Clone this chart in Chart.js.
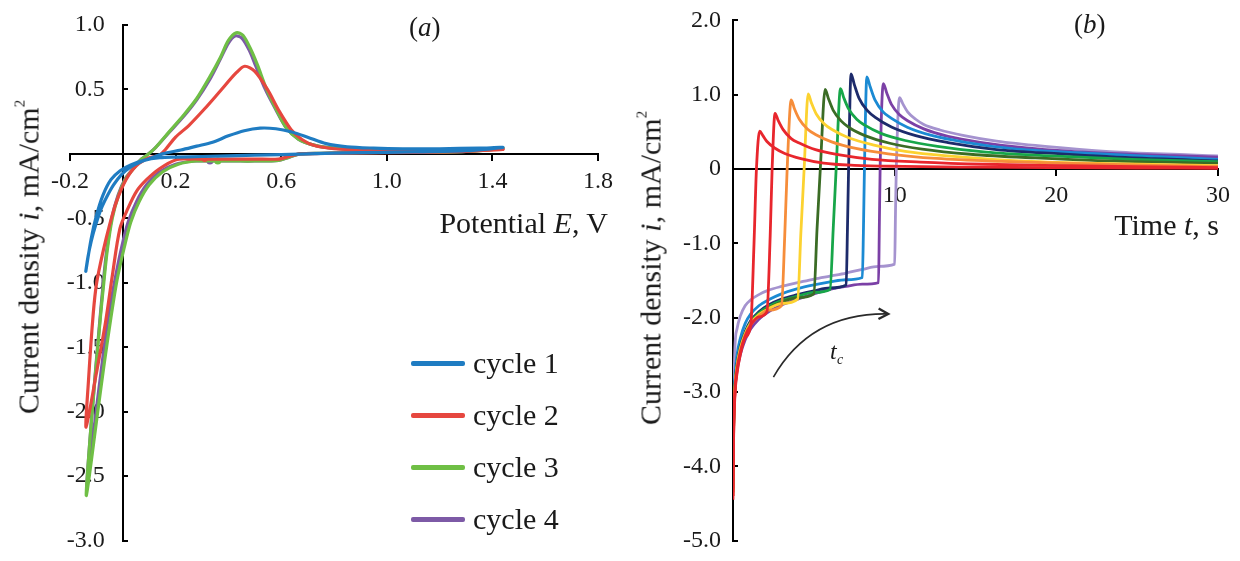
<!DOCTYPE html>
<html>
<head>
<meta charset="utf-8">
<script src="https://cdn.jsdelivr.net/npm/chart.js@4.4.1/dist/chart.umd.min.js"></script>
<style>
  body { margin: 0; width: 1240px; height: 561px; background: #fff; overflow: hidden; position: relative;
         font-family: "Liberation Serif", "Times New Roman", serif; color: #1a1a1a; }
  .box { position: absolute; top: 0; width: 620px; height: 561px; }
  #boxA { left: 0; }
  #boxB { left: 620px; }
  .txt { position: absolute; white-space: nowrap; font-size: 30px; line-height: 1; }
  .ytitle { transform: translate(-50%, -50%) rotate(-90deg); }
  .ytitle sup { font-size: 15px; vertical-align: 14px; }
  #legendA { position: absolute; left: 411px; top: 337px; }
  .lrow { display: flex; align-items: center; height: 52px; font-size: 30px; line-height: 1; }
  .lline { width: 54px; height: 5px; border-radius: 2px; margin-right: 8px; }
</style>
</head>
<body>
<div class="box" id="boxA"><canvas id="chartA" width="620" height="561"></canvas></div>
<div class="box" id="boxB"><canvas id="chartB" width="620" height="561"></canvas></div>

<div class="txt" style="right:632px; top:208px;">Potential <i>E</i>, V</div>
<div class="txt" style="right:21px; top:210px;">Time <i>t</i>, s</div>
<div class="txt" style="left:409px; top:14px; font-size:27px;">(<i>a</i>)</div>
<div class="txt" style="left:1074px; top:11px; font-size:27px;">(<i>b</i>)</div>
<div class="txt ytitle" style="left:28px; top:257px;">Current density <i>i</i>, mA/cm<sup>2</sup></div>
<div class="txt ytitle" style="left:650px; top:268px;">Current density <i>i</i>, mA/cm<sup>2</sup></div>
<div id="legendA"></div>

<script>
// ---- (a) cyclic voltammograms: potential E (V) and current density i (mA/cm2)
const cycleNames = ['cycle 1', 'cycle 2', 'cycle 3', 'cycle 4'];
const cycleColors = ['#1f7cc2', '#e6473f', '#6fbf45', '#7d5aa6'];

const cycle1E = [0.3, 0.2, 0.14, 0.08, 0.03, -0.01, -0.045, -0.075, -0.1, -0.12, -0.14, -0.132, -0.12, -0.104, -0.083, -0.06, -0.035, -0.005, 0.03, 0.07, 0.11, 0.15, 0.22, 0.28, 0.34, 0.4, 0.46, 0.52, 0.58, 0.64, 0.7, 0.77, 0.85, 0.95, 1.06, 1.2, 1.35, 1.44, 1.3, 1.1, 0.9, 0.7, 0.5, 0.3];
const cycle1I = [-0.02, -0.025, -0.03, -0.05, -0.085, -0.13, -0.2, -0.32, -0.48, -0.66, -0.91, -0.8, -0.68, -0.56, -0.43, -0.33, -0.24, -0.16, -0.1, -0.06, -0.03, 0.0, 0.03, 0.06, 0.09, 0.14, 0.18, 0.2, 0.195, 0.17, 0.13, 0.08, 0.055, 0.045, 0.04, 0.04, 0.045, 0.05, 0.025, 0.015, 0.01, 0.0, -0.01, -0.02];

const cycle2E = [0.31, 0.25, 0.202, 0.139, 0.09, 0.052, 0.02, -0.011, -0.04, -0.065, -0.1, -0.139, -0.13, -0.112, -0.099, -0.074, -0.05, -0.024, 0.012, 0.052, 0.1, 0.139, 0.16, 0.2, 0.25, 0.31, 0.37, 0.43, 0.462, 0.5, 0.548, 0.59, 0.637, 0.68, 0.726, 0.8, 0.9, 1.0, 1.2, 1.44, 1.3, 1.1, 0.9, 0.75, 0.67, 0.63, 0.59, 0.5, 0.4, 0.31];
const cycle2I = [-0.04, -0.04, -0.045, -0.115, -0.2, -0.29, -0.42, -0.58, -0.95, -1.3, -1.7, -2.12, -1.76, -1.24, -1.0, -0.75, -0.55, -0.37, -0.2, -0.09, -0.03, -0.01, 0.03, 0.13, 0.22, 0.35, 0.49, 0.63, 0.68, 0.64, 0.5, 0.34, 0.19, 0.11, 0.065, 0.04, 0.03, 0.02, 0.025, 0.035, 0.02, 0.012, 0.008, 0.003, 0.0, -0.02, -0.04, -0.04, -0.04, -0.04];

const cycle3E = [0.36, 0.28, 0.21, 0.15, 0.1, 0.062, 0.03, 0.005, -0.022, -0.045, -0.07, -0.095, -0.138, -0.12, -0.1, -0.085, -0.072, -0.059, -0.04, -0.016, 0.012, 0.04, 0.066, 0.09, 0.12, 0.177, 0.23, 0.28, 0.33, 0.37, 0.4, 0.43, 0.455, 0.485, 0.51, 0.545, 0.58, 0.62, 0.665, 0.72, 0.77, 0.9, 1.02, 1.2, 1.35, 1.44, 1.3, 1.1, 0.9, 0.75, 0.67, 0.63, 0.59, 0.5, 0.42, 0.36];
const cycle3I = [-0.055, -0.055, -0.08, -0.14, -0.24, -0.37, -0.53, -0.73, -0.98, -1.27, -1.62, -2.0, -2.65, -2.1, -1.62, -1.27, -1.0, -0.75, -0.5, -0.32, -0.19, -0.115, -0.05, -0.013, 0.04, 0.175, 0.3, 0.43, 0.6, 0.75, 0.88, 0.94, 0.92, 0.81, 0.69, 0.5, 0.35, 0.2, 0.115, 0.07, 0.05, 0.03, 0.02, 0.025, 0.035, 0.045, 0.02, 0.012, 0.01, 0.005, 0.0, -0.025, -0.05, -0.055, -0.055, -0.055];

const cycle4E = [0.33, 0.27, 0.2, 0.139, 0.09, 0.052, 0.02, -0.005, -0.03, -0.055, -0.078, -0.1, -0.136, -0.118, -0.1, -0.086, -0.074, -0.061, -0.042, -0.018, 0.01, 0.039, 0.065, 0.089, 0.12, 0.177, 0.23, 0.28, 0.33, 0.368, 0.4, 0.425, 0.45, 0.48, 0.504, 0.54, 0.578, 0.62, 0.665, 0.72, 0.77, 0.9, 1.02, 1.2, 1.35, 1.44, 1.3, 1.1, 0.9, 0.75, 0.67, 0.63, 0.59, 0.5, 0.42, 0.33];
const cycle4I = [-0.055, -0.055, -0.08, -0.14, -0.24, -0.37, -0.53, -0.73, -0.98, -1.27, -1.62, -1.98, -2.58, -2.05, -1.6, -1.27, -1.0, -0.75, -0.5, -0.32, -0.19, -0.115, -0.05, -0.013, 0.04, 0.17, 0.29, 0.42, 0.58, 0.73, 0.86, 0.915, 0.9, 0.8, 0.68, 0.5, 0.35, 0.2, 0.115, 0.07, 0.05, 0.03, 0.02, 0.025, 0.03, 0.04, 0.02, 0.012, 0.01, 0.005, 0.0, -0.025, -0.05, -0.055, -0.055, -0.055];

const cyclesE = [cycle1E, cycle2E, cycle3E, cycle4E];
const cyclesI = [cycle1I, cycle2I, cycle3I, cycle4I];
const startDot = [0, 3, 3.5, 3.5];

const ticksA_x = [-0.2, 0.2, 0.6, 1.0, 1.4, 1.8];

// ---- (b) current transients: time t (s), current density i (mA/cm2)
const runColors = ['#e8262d', '#e8262d', '#f68d3a', '#fcd230', '#3b6c25', '#17a649', '#1d2b6b', '#1b8ad3', '#7b40a6', '#a593cf'];

const run1T = [0, 0.04, 0.12, 0.25, 0.45, 0.75, 1.1, 1.3, 1.45, 1.65, 1.85, 2.1, 2.6, 3.2, 4.2, 5.6, 7.5, 10.5, 15, 20, 25, 30];
const run1I = [-4.45, -3.6, -3.05, -2.75, -2.5, -2.27, -2.1, -1.0, 0, 0.51, 0.45, 0.37, 0.28, 0.21, 0.14, 0.08, 0.05, 0.035, 0.025, 0.018, 0.013, 0.01];

const run2T = [0, 0.04, 0.12, 0.25, 0.45, 0.75, 1.1, 1.6, 2.1, 2.3, 2.42, 2.6, 2.8, 3.1, 3.6, 4.1, 5.1, 6.6, 8.6, 11.6, 15.6, 20.6, 25, 30];
const run2I = [-4.4, -3.55, -3.0, -2.7, -2.47, -2.25, -2.1, -1.99, -1.92, -0.9, 0, 0.75, 0.65, 0.53, 0.41, 0.35, 0.26, 0.19, 0.13, 0.093, 0.064, 0.046, 0.032, 0.02];

const run3T = [0, 0.04, 0.12, 0.25, 0.45, 0.75, 1.1, 1.6, 2.2, 3.0, 3.2, 3.35, 3.6, 3.8, 4.1, 4.6, 5.1, 6.1, 7.6, 9.6, 12.6, 16.6, 21.6, 26, 30];
const run3I = [-4.4, -3.5, -2.98, -2.68, -2.45, -2.24, -2.09, -1.98, -1.9, -1.84, -0.9, 0, 0.93, 0.81, 0.67, 0.54, 0.465, 0.366, 0.277, 0.205, 0.142, 0.102, 0.071, 0.05, 0.035];

const run4T = [0, 0.04, 0.12, 0.25, 0.45, 0.75, 1.1, 1.6, 2.2, 3.0, 4.0, 4.2, 4.4, 4.65, 4.85, 5.15, 5.65, 6.15, 7.15, 8.65, 10.65, 13.65, 17.65, 22.65, 30];
const run4I = [-4.35, -3.45, -2.95, -2.65, -2.42, -2.22, -2.07, -1.96, -1.88, -1.81, -1.75, -0.85, 0, 1.01, 0.89, 0.74, 0.605, 0.528, 0.421, 0.325, 0.238, 0.17, 0.11, 0.075, 0.045];

const run5T = [0, 0.04, 0.12, 0.25, 0.45, 0.75, 1.1, 1.6, 2.2, 3.0, 4.0, 5.0, 5.2, 5.4, 5.7, 5.9, 6.2, 6.7, 7.2, 8.2, 9.7, 11.7, 14.7, 18.7, 23.7, 30];
const run5I = [-4.35, -3.45, -2.95, -2.66, -2.43, -2.23, -2.08, -1.96, -1.87, -1.79, -1.73, -1.68, -0.8, 0, 1.07, 0.95, 0.79, 0.644, 0.555, 0.446, 0.347, 0.268, 0.199, 0.149, 0.105, 0.08];

const run6T = [0, 0.04, 0.12, 0.25, 0.45, 0.75, 1.1, 1.6, 2.2, 3.0, 4.0, 5.0, 6.0, 6.2, 6.38, 6.65, 6.85, 7.15, 7.65, 8.15, 9.15, 10.65, 12.65, 15.65, 19.65, 24.65, 30];
const run6I = [-4.3, -3.4, -2.92, -2.64, -2.41, -2.21, -2.06, -1.94, -1.85, -1.77, -1.71, -1.66, -1.62, -0.8, 0, 1.08, 0.96, 0.81, 0.67, 0.59, 0.48, 0.384, 0.306, 0.227, 0.178, 0.13, 0.1];

const run7T = [0, 0.04, 0.12, 0.25, 0.45, 0.75, 1.1, 1.6, 2.2, 3.0, 4.0, 5.0, 6.0, 7.0, 7.08, 7.15, 7.3, 7.5, 7.8, 8.3, 8.8, 9.8, 11.3, 13.3, 16.3, 20.3, 25.3, 30];
const run7I = [-4.3, -3.4, -2.9, -2.62, -2.39, -2.19, -2.04, -1.92, -1.83, -1.75, -1.69, -1.64, -1.6, -1.56, -0.8, 0, 1.28, 1.14, 0.95, 0.79, 0.695, 0.566, 0.449, 0.356, 0.262, 0.204, 0.145, 0.11];

const run8T = [0, 0.04, 0.12, 0.25, 0.45, 0.75, 1.1, 1.6, 2.2, 3.0, 4.0, 5.0, 6.0, 7.0, 8.0, 8.07, 8.13, 8.28, 8.48, 8.78, 9.28, 9.78, 10.78, 12.28, 14.28, 17.28, 21.28, 26.28, 30];
const run8I = [-4.2, -3.3, -2.8, -2.5, -2.28, -2.08, -1.95, -1.84, -1.76, -1.68, -1.61, -1.56, -1.52, -1.49, -1.46, -0.8, 0, 1.24, 1.11, 0.93, 0.77, 0.685, 0.563, 0.452, 0.363, 0.274, 0.219, 0.165, 0.13];

const run9T = [0, 0.04, 0.12, 0.25, 0.45, 0.75, 1.1, 1.6, 2.2, 3.0, 4.0, 5.0, 6.0, 7.0, 8.0, 9.0, 9.05, 9.1, 9.3, 9.5, 9.8, 10.3, 10.8, 11.8, 13.3, 15.3, 18.3, 22.3, 27.3, 30];
const run9I = [-4.25, -3.45, -3.0, -2.72, -2.5, -2.3, -2.15, -2.02, -1.92, -1.83, -1.75, -1.68, -1.62, -1.58, -1.55, -1.53, -0.8, 0, 1.15, 1.03, 0.87, 0.73, 0.65, 0.54, 0.44, 0.36, 0.28, 0.22, 0.18, 0.16];

const run10T = [0, 0.04, 0.12, 0.25, 0.45, 0.75, 1.1, 1.6, 2.2, 3.0, 4.0, 5.0, 6.0, 7.0, 8.0, 9.0, 10.0, 10.05, 10.1, 10.3, 10.5, 10.8, 11.3, 11.8, 12.8, 14.3, 16.3, 19.3, 23.3, 28.3, 30];
const run10I = [-4.0, -3.2, -2.4, -2.15, -1.98, -1.84, -1.76, -1.69, -1.63, -1.58, -1.53, -1.48, -1.44, -1.4, -1.35, -1.31, -1.28, -0.6, 0, 0.96, 0.88, 0.77, 0.67, 0.6, 0.525, 0.45, 0.375, 0.304, 0.235, 0.19, 0.175];

const runsT = [run1T, run2T, run3T, run4T, run5T, run6T, run7T, run8T, run9T, run10T];
const runsI = [run1I, run2I, run3I, run4I, run5I, run6I, run7I, run8I, run9I, run10I];

// arrow marking the growing step time t_c (data coords)
const arrowFrom = [2.5, -2.8];
const arrowCtrl = [4.8, -1.93];
const arrowTo = [9.6, -1.95];
const arrowLabelAt = [6.0, -2.55];

const serif = 'Liberation Serif';
const ink = '#1a1a1a';

function toPoints(xs, ys) {
    return xs.map(function (v, k) { return { x: v, y: ys[k] }; });
}

function axisCommon(fontSize, tickLen) {
    return {
        type: 'linear',
        border: { display: true, color: '#000', width: 2 },
        grid: { display: true, drawOnChartArea: false, drawTicks: true, tickLength: tickLen, color: '#000', lineWidth: 2 },
        ticks: { color: ink, padding: 6, font: { family: serif, size: fontSize } }
    };
}

// ---- chart (a)
var setsA = [];
for (var k = 0; k < cyclesE.length; k++) {
    setsA.push({
        label: cycleNames[k],
        data: toPoints(cyclesE[k], cyclesI[k]),
        showLine: true,
        borderColor: cycleColors[k],
        backgroundColor: cycleColors[k],
        borderWidth: 3.2,
        tension: 0.3,
        pointRadius: (function (r) { return function (c) { return c.dataIndex === 0 ? r : 0; }; })(startDot[k]),
        pointBorderWidth: 0
    });
}

var xA = axisCommon(24, 6);
xA.min = -0.2; xA.max = 1.8; xA.position = { y: 0 };
xA.afterBuildTicks = function (axis) { axis.ticks = ticksA_x.map(function (v) { return { value: v }; }); };
xA.ticks.callback = function (v) { return Number(v).toFixed(1); };
xA.ticks.padding = 7;

// y labels sit on the axis line when the axis is placed at x = 0, so pad them with spaces
var yA = axisCommon(24, -6);
yA.min = -3; yA.max = 1; yA.position = { x: 0 };
yA.ticks.stepSize = 0.5;
yA.ticks.callback = function (v) { return v === 0 ? '' : Number(v).toFixed(1) + '   '; };

new Chart(document.getElementById('chartA'), {
    type: 'scatter',
    data: { datasets: setsA },
    options: {
        responsive: false,
        animation: false,
        devicePixelRatio: 1,
        layout: { padding: { left: 70, right: 18, top: 25, bottom: 16 } },
        scales: { x: xA, y: yA },
        plugins: { legend: { display: false }, tooltip: { enabled: false } }
    }
});

// html legend for (a)
var legendBox = document.getElementById('legendA');
for (var k = 0; k < cycleNames.length; k++) {
    legendBox.insertAdjacentHTML('beforeend',
        '<div class="lrow"><span class="lline" style="background:' + cycleColors[k] + '"></span>' + cycleNames[k] + '</div>');
}

// ---- chart (b)
var setsB = [];
for (var k = 0; k < runsT.length; k++) {
    setsB.push({
        data: toPoints(runsT[k], runsI[k]),
        showLine: true,
        borderColor: runColors[k],
        borderWidth: 2.8,
        cubicInterpolationMode: 'monotone',
        pointRadius: 0
    });
}

const arrowPlugin = {
    id: 'tcArrow',
    afterDatasetsDraw(chart) {
        const ctx = chart.ctx;
        const sx = chart.scales.x, sy = chart.scales.y;
        const p0 = [sx.getPixelForValue(arrowFrom[0]), sy.getPixelForValue(arrowFrom[1])];
        const pc = [sx.getPixelForValue(arrowCtrl[0]), sy.getPixelForValue(arrowCtrl[1])];
        const p1 = [sx.getPixelForValue(arrowTo[0]), sy.getPixelForValue(arrowTo[1])];
        ctx.save();
        ctx.strokeStyle = '#2a2a2a';
        ctx.lineWidth = 1.6;
        ctx.beginPath();
        ctx.moveTo(p0[0], p0[1]);
        ctx.quadraticCurveTo(pc[0], pc[1], p1[0], p1[1]);
        ctx.stroke();
        // open arrow head
        const ang = Math.atan2(p1[1] - pc[1], p1[0] - pc[0]);
        ctx.lineWidth = 2.4;
        ctx.beginPath();
        ctx.moveTo(p1[0] - 11 * Math.cos(ang - 0.5), p1[1] - 11 * Math.sin(ang - 0.5));
        ctx.lineTo(p1[0], p1[1]);
        ctx.lineTo(p1[0] - 11 * Math.cos(ang + 0.5), p1[1] - 11 * Math.sin(ang + 0.5));
        ctx.stroke();
        // t_c label
        const lx = sx.getPixelForValue(arrowLabelAt[0]), ly = sy.getPixelForValue(arrowLabelAt[1]);
        ctx.fillStyle = ink;
        ctx.font = 'italic 24px "' + serif + '"';
        ctx.textBaseline = 'alphabetic';
        ctx.fillText('t', lx, ly);
        ctx.font = 'italic 14px "' + serif + '"';
        ctx.fillText('c', lx + 7, ly + 5);
        ctx.restore();
    }
};

var xB = axisCommon(24, 6);
xB.min = 0; xB.max = 30; xB.position = { y: 0 };
xB.ticks.stepSize = 10;
xB.ticks.callback = function (v) { return v === 0 ? '' : v; };
xB.ticks.padding = 6;

var yB = axisCommon(24, -6);
yB.min = -5; yB.max = 2; yB.position = { x: 0 };
yB.ticks.stepSize = 1;
yB.ticks.callback = function (v) { return (v === 0 ? '0' : Number(v).toFixed(1)) + '  '; };

new Chart(document.getElementById('chartB'), {
    type: 'scatter',
    data: { datasets: setsB },
    options: {
        responsive: false,
        animation: false,
        devicePixelRatio: 1,
        layout: { padding: { left: 113, right: 22, top: 18, bottom: 13 } },
        scales: { x: xB, y: yB },
        plugins: { legend: { display: false }, tooltip: { enabled: false } }
    },
    plugins: [arrowPlugin]
});
</script>
</body>
</html>
